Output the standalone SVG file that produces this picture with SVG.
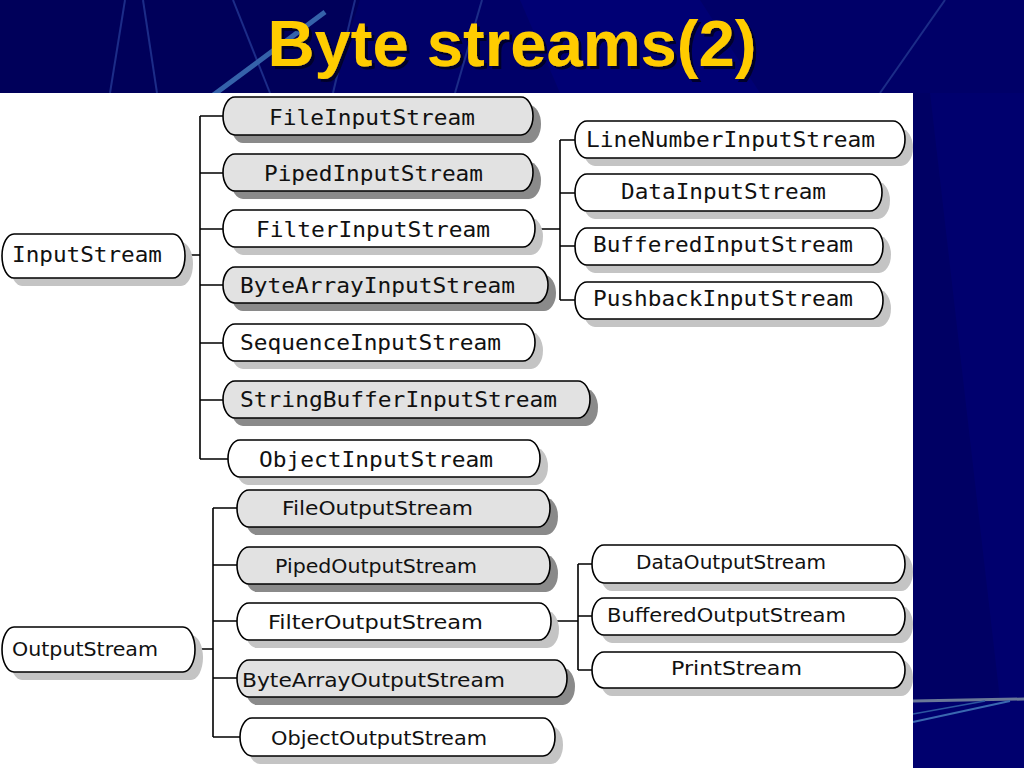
<svg xmlns="http://www.w3.org/2000/svg" width="1024" height="768" viewBox="0 0 1024 768">
<defs>
<filter id="tsh" x="-5%" y="-10%" width="110%" height="130%"><feDropShadow dx="3" dy="3" stdDeviation="0.6" flood-color="#000020" flood-opacity="0.9"/></filter>
</defs>
<style>
.nw{fill:#ffffff;stroke:#000;stroke-width:1.6}
.ng{fill:#e2e2e2;stroke:#000;stroke-width:1.6}
.sw{fill:#c4c4c4}
.sg{fill:#8a8a8a}
.ti{font-family:"DejaVu Sans Mono","Liberation Mono",monospace;font-size:21px;fill:#111}
.to{font-family:"DejaVu Sans","Liberation Sans",sans-serif;font-size:19px;fill:#111}
.ln{fill:none;stroke:#000;stroke-width:1.6}
.bg{stroke:#1c2c88;stroke-width:2;fill:none}
</style>
<rect x="0" y="0" width="1024" height="768" fill="#000068"/>
<polygon points="0,0 360,0 330,93 0,93" fill="#00005a"/>
<polygon points="520,0 700,0 760,93 560,93" fill="#000074"/>
<polygon points="913,93 1024,93 1024,768 913,768" fill="#00006e"/>
<polygon points="913,93 930,93 1000,700 913,700" fill="#000064"/>
<line class="bg" x1="110" y1="93" x2="125" y2="0"/>
<line class="bg" x1="157" y1="93" x2="143" y2="0"/>
<line class="bg" x1="233" y1="0" x2="270" y2="93"/>
<line x1="212" y1="96" x2="325" y2="12" stroke="#3562aa" stroke-width="5"/>
<line class="bg" x1="333" y1="93" x2="355" y2="0"/>
<line class="bg" x1="455" y1="93" x2="482" y2="0"/>
<line class="bg" x1="880" y1="93" x2="945" y2="0"/>
<line x1="913" y1="701" x2="1024" y2="699" stroke="#6a7898" stroke-width="3"/>
<line x1="913" y1="722" x2="1010" y2="701" stroke="#3a68b0" stroke-width="2"/>
<line x1="913" y1="714" x2="985" y2="701" stroke="#2c56a0" stroke-width="1.5"/>
<text x="512" y="66" text-anchor="middle" font-family="Liberation Sans, Arial, sans-serif" font-weight="bold" font-size="64" textLength="489" lengthAdjust="spacingAndGlyphs" fill="#ffcc00" filter="url(#tsh)">Byte streams(2)</text>
<rect x="0" y="93" width="913" height="675" fill="#ffffff"/>
<g id="connectors">
<path class="ln" d="M185,255 H200 M200,116 V459 M200,116 H223 M200,173 H223 M200,229 H223 M200,285 H223 M200,343 H223 M200,400 H223 M200,459 H228"/>
<path class="ln" d="M535,229 H560 M560,140 V300 M560,140 H575 M560,193 H575 M560,246 H575 M560,300 H575"/>
<path class="ln" d="M195,649 H213 M213,508 V737 M213,508 H237 M213,565 H237 M213,621 H237 M213,678 H237 M213,737 H240"/>
<path class="ln" d="M551,621 H578 M578,564 V670 M578,564 H592 M578,616 H592 M578,670 H592"/>
</g>
<g id="InputStream"><rect class="sw" x="10" y="242" width="183" height="44" rx="12" ry="22"/><rect class="nw" x="2" y="234" width="183" height="44" rx="12" ry="22"/><text class="ti" x="12" y="262" textLength="150" lengthAdjust="spacingAndGlyphs">InputStream</text></g>
<g id="FileInputStream"><rect class="sg" x="231" y="105" width="310" height="38" rx="12" ry="19"/><rect class="ng" x="223" y="97" width="310" height="38" rx="12" ry="19"/><text class="ti" x="269" y="125" textLength="206" lengthAdjust="spacingAndGlyphs">FileInputStream</text></g>
<g id="PipedInputStream"><rect class="sg" x="231" y="162" width="310" height="37" rx="12" ry="18.5"/><rect class="ng" x="223" y="154" width="310" height="37" rx="12" ry="18.5"/><text class="ti" x="264" y="181" textLength="219" lengthAdjust="spacingAndGlyphs">PipedInputStream</text></g>
<g id="FilterInputStream"><rect class="sw" x="231" y="218" width="312" height="37" rx="12" ry="18.5"/><rect class="nw" x="223" y="210" width="312" height="37" rx="12" ry="18.5"/><text class="ti" x="256" y="237" textLength="234" lengthAdjust="spacingAndGlyphs">FilterInputStream</text></g>
<g id="ByteArrayInputStream"><rect class="sg" x="231" y="275" width="325" height="36" rx="12" ry="18"/><rect class="ng" x="223" y="267" width="325" height="36" rx="12" ry="18"/><text class="ti" x="240" y="293" textLength="275" lengthAdjust="spacingAndGlyphs">ByteArrayInputStream</text></g>
<g id="SequenceInputStream"><rect class="sw" x="231" y="332" width="312" height="37" rx="12" ry="18.5"/><rect class="nw" x="223" y="324" width="312" height="37" rx="12" ry="18.5"/><text class="ti" x="240" y="350" textLength="261" lengthAdjust="spacingAndGlyphs">SequenceInputStream</text></g>
<g id="StringBufferInputStream"><rect class="sg" x="231" y="389" width="367" height="37" rx="12" ry="18.5"/><rect class="ng" x="223" y="381" width="367" height="37" rx="12" ry="18.5"/><text class="ti" x="240" y="407" textLength="317" lengthAdjust="spacingAndGlyphs">StringBufferInputStream</text></g>
<g id="ObjectInputStream"><rect class="sw" x="236" y="448" width="312" height="37" rx="12" ry="18.5"/><rect class="nw" x="228" y="440" width="312" height="37" rx="12" ry="18.5"/><text class="ti" x="259" y="467" textLength="234" lengthAdjust="spacingAndGlyphs">ObjectInputStream</text></g>
<g id="LineNumberInputStream"><rect class="sw" x="583" y="129" width="330" height="37" rx="12" ry="18.5"/><rect class="nw" x="575" y="121" width="330" height="37" rx="12" ry="18.5"/><text class="ti" x="586" y="147" textLength="289" lengthAdjust="spacingAndGlyphs">LineNumberInputStream</text></g>
<g id="DataInputStream"><rect class="sw" x="583" y="182" width="307" height="37" rx="12" ry="18.5"/><rect class="nw" x="575" y="174" width="307" height="37" rx="12" ry="18.5"/><text class="ti" x="621" y="199" textLength="205" lengthAdjust="spacingAndGlyphs">DataInputStream</text></g>
<g id="BufferedInputStream"><rect class="sw" x="583" y="236" width="308" height="37" rx="12" ry="18.5"/><rect class="nw" x="575" y="228" width="308" height="37" rx="12" ry="18.5"/><text class="ti" x="593" y="252" textLength="260" lengthAdjust="spacingAndGlyphs">BufferedInputStream</text></g>
<g id="PushbackInputStream"><rect class="sw" x="583" y="290" width="308" height="37" rx="12" ry="18.5"/><rect class="nw" x="575" y="282" width="308" height="37" rx="12" ry="18.5"/><text class="ti" x="593" y="306" textLength="260" lengthAdjust="spacingAndGlyphs">PushbackInputStream</text></g>
<g id="OutputStream"><rect class="sw" x="10" y="635" width="193" height="45" rx="12" ry="22.5"/><rect class="nw" x="2" y="627" width="193" height="45" rx="12" ry="22.5"/><text class="to" x="12" y="656" textLength="146" lengthAdjust="spacingAndGlyphs">OutputStream</text></g>
<g id="FileOutputStream"><rect class="sg" x="245" y="498" width="313" height="37" rx="12" ry="18.5"/><rect class="ng" x="237" y="490" width="313" height="37" rx="12" ry="18.5"/><text class="to" x="282" y="515" textLength="191" lengthAdjust="spacingAndGlyphs">FileOutputStream</text></g>
<g id="PipedOutputStream"><rect class="sg" x="245" y="555" width="313" height="37" rx="12" ry="18.5"/><rect class="ng" x="237" y="547" width="313" height="37" rx="12" ry="18.5"/><text class="to" x="275" y="573" textLength="202" lengthAdjust="spacingAndGlyphs">PipedOutputStream</text></g>
<g id="FilterOutputStream"><rect class="sw" x="245" y="611" width="314" height="37" rx="12" ry="18.5"/><rect class="nw" x="237" y="603" width="314" height="37" rx="12" ry="18.5"/><text class="to" x="268" y="629" textLength="215" lengthAdjust="spacingAndGlyphs">FilterOutputStream</text></g>
<g id="ByteArrayOutputStream"><rect class="sg" x="245" y="668" width="330" height="37" rx="12" ry="18.5"/><rect class="ng" x="237" y="660" width="330" height="37" rx="12" ry="18.5"/><text class="to" x="242" y="687" textLength="263" lengthAdjust="spacingAndGlyphs">ByteArrayOutputStream</text></g>
<g id="ObjectOutputStream"><rect class="sw" x="248" y="726" width="315" height="38" rx="12" ry="19"/><rect class="nw" x="240" y="718" width="315" height="38" rx="12" ry="19"/><text class="to" x="271" y="745" textLength="216" lengthAdjust="spacingAndGlyphs">ObjectOutputStream</text></g>
<g id="DataOutputStream"><rect class="sw" x="600" y="553" width="313" height="38" rx="12" ry="19"/><rect class="nw" x="592" y="545" width="313" height="38" rx="12" ry="19"/><text class="to" x="636" y="569" textLength="190" lengthAdjust="spacingAndGlyphs">DataOutputStream</text></g>
<g id="BufferedOutputStream"><rect class="sw" x="600" y="606" width="313" height="37" rx="12" ry="18.5"/><rect class="nw" x="592" y="598" width="313" height="37" rx="12" ry="18.5"/><text class="to" x="607" y="622" textLength="239" lengthAdjust="spacingAndGlyphs">BufferedOutputStream</text></g>
<g id="PrintStream"><rect class="sw" x="600" y="660" width="313" height="36" rx="12" ry="18"/><rect class="nw" x="592" y="652" width="313" height="36" rx="12" ry="18"/><text class="to" x="671" y="675" textLength="131" lengthAdjust="spacingAndGlyphs">PrintStream</text></g>
</svg>
